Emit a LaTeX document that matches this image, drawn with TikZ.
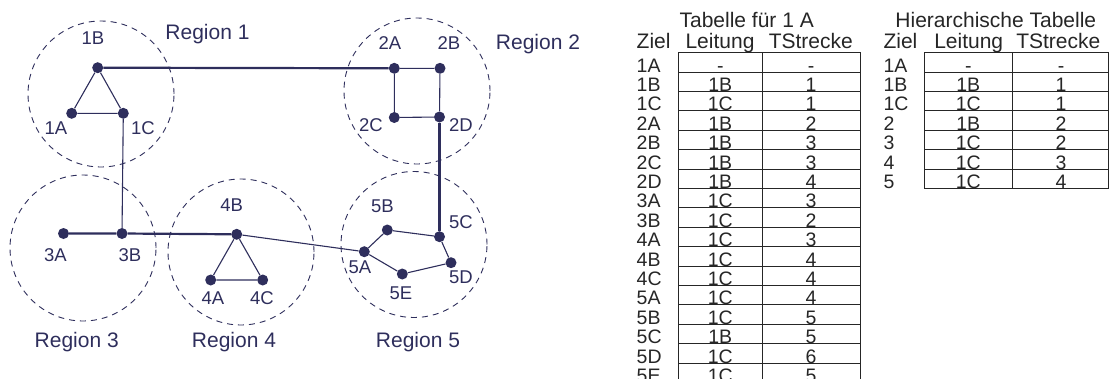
\documentclass[tikz,border=0pt]{standalone}
\usepackage{fontspec}
\setmainfont{Liberation Sans}
\definecolor{netblue}{RGB}{46,46,92}
\definecolor{tabgray}{RGB}{38,38,38}
\tikzset{
  knot/.style={circle,fill=netblue,inner sep=0pt,minimum size=11pt},
  knlabel/.style={text=netblue,font=\fontsize{18.5}{20}\selectfont,inner sep=0pt},
  region/.style={draw=netblue,dash pattern=on 6pt off 5pt,line width=0.9pt},
  reglabel/.style={text=netblue,font=\fontsize{21}{24}\selectfont,inner sep=0pt,anchor=base},
  thinlink/.style={draw=netblue,line width=1.1pt},
  thicklink/.style={draw=netblue,line width=2.2pt},
  tabline/.style={draw=tabgray,line width=0.9pt},
  tabtext/.style={text=tabgray,font=\fontsize{19.5}{20}\selectfont,inner sep=0pt,anchor=base},
  tabhead/.style={text=tabgray,font=\fontsize{21}{22}\selectfont,inner sep=0pt,anchor=base},
}
\begin{document}
\begin{tikzpicture}[x=1pt,y=-1pt]
                \useasboundingbox (0,0) rectangle (1109,378);
                \draw[region] (101,94) circle[radius=73pt];
                \draw[region] (417,91) circle[radius=73pt];
                \draw[region] (83,248) circle[radius=73pt];
                \draw[region] (241,252) circle[radius=73pt];
                \draw[region] (414,244.5) circle[radius=73pt];
                \node[reglabel] (r1) at (207.5,39.3) {Region 1};
                \node[reglabel] (r2) at (538,49.3) {Region 2};
                \node[reglabel] (r3) at (76.7,347.3) {Region 3};
                \node[reglabel] (r4) at (234,347.3) {Region 4};
                \node[reglabel] (r5) at (418,347.3) {Region 5};
                \node[knot] (1B) at (97.7,67.7) {};
                \node[knot] (1A) at (71.7,113.3) {};
                \node[knot] (1C) at (123.3,113.3) {};
                \node[knot] (2A) at (394.3,68.3) {};
                \node[knot] (2B) at (440,68.3) {};
                \node[knot] (2C) at (394.3,117.5) {};
                \node[knot] (2D) at (439.5,117) {};
                \node[knot] (3A) at (63.5,233.5) {};
                \node[knot] (3B) at (122,233.5) {};
                \node[knot] (4B) at (236.7,234.3) {};
                \node[knot] (4A) at (210.7,280) {};
                \node[knot] (4C) at (262.7,280) {};
                \node[knot] (5B) at (387.3,230) {};
                \node[knot] (5C) at (439.5,236.7) {};
                \node[knot] (5A) at (364.3,251.7) {};
                \node[knot] (5E) at (402.3,274) {};
                \node[knot] (5D) at (451,262.7) {};
                \node[knlabel] (l1B) at (93,38) {1B};
                \node[knlabel] (l1A) at (56,128) {1A};
                \node[knlabel] (l1C) at (143,128) {1C};
                \node[knlabel] (l2A) at (390,43) {2A};
                \node[knlabel] (l2B) at (449,43) {2B};
                \node[knlabel] (l2C) at (371,125) {2C};
                \node[knlabel] (l2D) at (461,125) {2D};
                \node[knlabel] (l3A) at (55.4,255) {3A};
                \node[knlabel] (l3B) at (130,255) {3B};
                \node[knlabel] (l4B) at (231.6,205) {4B};
                \node[knlabel] (l4A) at (213,298) {4A};
                \node[knlabel] (l4C) at (262,298) {4C};
                \node[knlabel] (l5B) at (382.5,206.7) {5B};
                \node[knlabel] (l5C) at (461,221.7) {5C};
                \node[knlabel] (l5A) at (360,267) {5A};
                \node[knlabel] (l5E) at (401,293) {5E};
                \node[knlabel] (l5D) at (461,277.5) {5D};
                \draw[thicklink] (1B) -- (2A);
                \draw[thinlink] (1B) -- (1A) -- (1C) -- (1B);
                \draw[thinlink] (1C) -- (3B);
                \draw[thinlink] (2A) -- (2B) -- (2D) -- (2C) -- (2A);
                \draw[thicklink] (2D) -- (5C);
                \draw[thicklink] (3A) -- (3B) -- (4B);
                \draw[thinlink] (4B) -- (4A) -- (4C) -- (4B);
                \draw[thinlink] (4B) -- (5A);
                \draw[thinlink] (5A) -- (5B) -- (5C) -- (5D) -- (5E) -- (5A);
                \node[tabhead] (titleA) at (746.7,27) {Tabelle für 1 A};
                \node[tabhead,anchor=base west] (zielA) at (636.5,48.3) {Ziel};
                \node[tabhead] (leitA) at (720,48.3) {Leitung};
                \node[tabhead] (tstrA) at (810.8,48.3) {TStrecke};
                \foreach \ziel/\leit/\tstr [count=\r from 0] in {1A/-/-,1B/1B/1,1C/1C/1,2A/1B/2,2B/1B/3,2C/1B/3,2D/1B/4,3A/1C/3,3B/1C/2,4A/1C/3,4B/1C/4,4C/1C/4,5A/1C/4,5B/1C/5,5C/1B/5,5D/1C/6,5E/1C/5}{
                    \draw[tabline] ({678.3},{52.7+19.4*\r}) rectangle ({860},{72.1+19.4*\r});
                    \node[tabtext,anchor=base west] (zA\r) at ({636.5},{72.1+19.4*\r}) {\ziel};
                    \node[tabtext] (lA\r) at ({720.3},{72.1+19.4*\r}) {\leit};
                    \node[tabtext] (tA\r) at ({811},{72.1+19.4*\r}) {\tstr};
                }
                \draw[tabline] (762.3,52.7) -- (762.3,382.5);
                \node[tabhead] (titleB) at (995.8,27) {Hierarchische Tabelle};
                \node[tabhead,anchor=base west] (zielB) at (883.3,48.3) {Ziel};
                \node[tabhead] (leitB) at (968.7,48.3) {Leitung};
                \node[tabhead] (tstrB) at (1058.3,48.3) {TStrecke};
                \foreach \ziel/\leit/\tstr [count=\r from 0] in {1A/-/-,1B/1B/1,1C/1C/1,2/1B/2,3/1C/2,4/1C/3,5/1C/4}{
                    \draw[tabline] ({924},{52.7+19.4*\r}) rectangle ({1108.3},{72.1+19.4*\r});
                    \node[tabtext,anchor=base west] (zB\r) at ({883.3},{72.1+19.4*\r}) {\ziel};
                    \node[tabtext] (lB\r) at ({968.3},{72.1+19.4*\r}) {\leit};
                    \node[tabtext] (tB\r) at ({1061},{72.1+19.4*\r}) {\tstr};
                }
                \draw[tabline] (1012.7,52.7) -- (1012.7,188.5);
            \end{tikzpicture}
\end{document}
